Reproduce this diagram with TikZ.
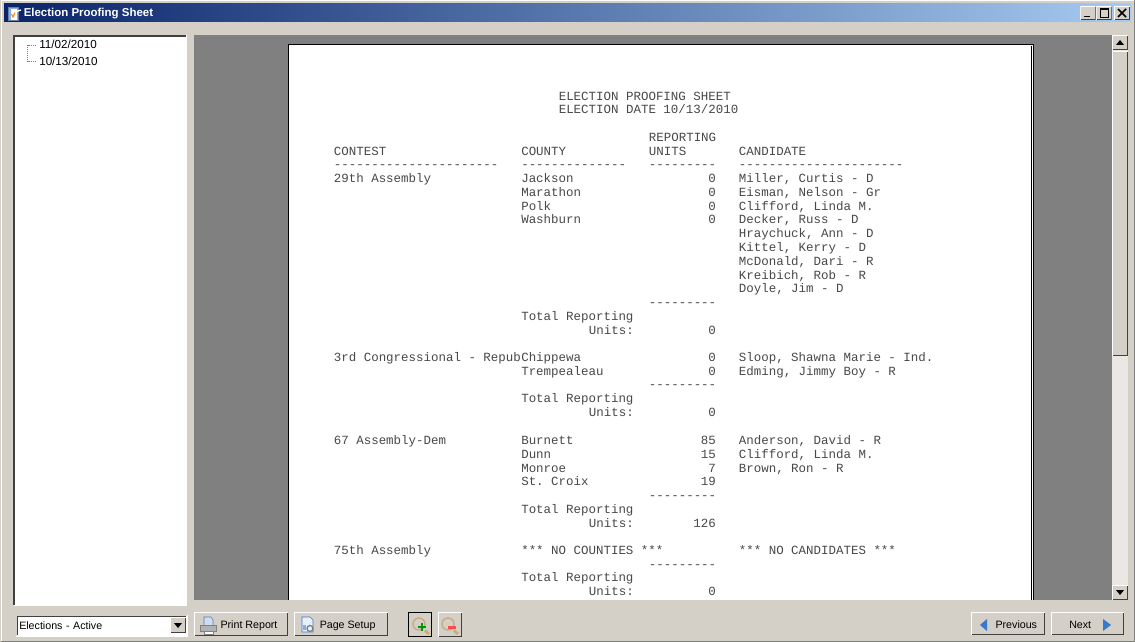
\documentclass[tikz,border=0pt]{standalone}
\usepackage{fontspec}
\setmainfont{Liberation Sans}
\setmonofont{Liberation Mono}
\definecolor{face}{HTML}{D4D0C8}
\definecolor{midgray}{HTML}{808080}
\definecolor{darkline}{HTML}{404040}
\definecolor{titleleft}{HTML}{0A246A}
\definecolor{titleright}{HTML}{A6CAF0}
\definecolor{track}{HTML}{EAE8E4}
\definecolor{ink}{HTML}{484848}
\definecolor{iconblue}{HTML}{3A78D0}
\definecolor{lens}{HTML}{CDA878}
\tikzset{
  report/.style={font=\ttfamily\fontsize{9.35pt}{11pt}\selectfont, text=ink, inner sep=0pt, anchor=base west},
  number/.style={report, anchor=base east},
  uitext/.style={font=\fontsize{8.75pt}{10pt}\selectfont, text=black, inner sep=0pt, anchor=base west},
  btntext/.style={font=\fontsize{8pt}{10pt}\selectfont, text=black, inner sep=0pt, anchor=base west},
  winbutton/.style={fill=face, inner sep=0pt, path picture={
      \draw[darkline, line width=0.75pt] ([xshift=.375pt,yshift=.375pt]path picture bounding box.south west)
        -| ([xshift=-.375pt]path picture bounding box.north east);
      \draw[white, line width=0.75pt] ([xshift=.375pt]path picture bounding box.south west)
        |- ([yshift=-.375pt]path picture bounding box.north east);
    }},
  scrollarrow/.style={fill=black, draw=none}
}
\begin{document}
\begin{tikzpicture}[x=0.75pt, y=-0.75pt]
    \useasboundingbox (0,0) rectangle (1135,642);

    % Window
    \fill[face] (0,0) rectangle (1135,642);
    \draw[white, line width=0.75pt] (1,641) -- (1,1) -- (1134,1);
    \draw[midgray, line width=0.75pt] (0.5,641) -- (1134.5,641) -- (1134.5,0);
    \shade[left color=titleleft, right color=titleright] (4,4) rectangle (1131,22);
    \node[font=\bfseries\fontsize{8.6pt}{10pt}\selectfont, text=white, inner sep=0pt, anchor=base west] (title) at (23.5,17) {Election Proofing Sheet};

    % Title icon
    \fill[iconblue!60!white, draw=titleleft!60!white] (8,7) rectangle (18,20);
    \fill[white] (11,9) rectangle (17,20);
    \draw[orange, thick] (11.5,14) -- (13,17) -- (15,12.5);
    \draw[white, line width=1pt] (15,12) -- (21,10);

    % Title buttons
    \node[winbutton, minimum width=11.5pt, minimum height=10.5pt] (minbtn) at (1088,13) {};
    \node[winbutton, minimum width=11.5pt, minimum height=10.5pt] (maxbtn) at (1104,13) {};
    \node[winbutton, minimum width=12pt, minimum height=10.5pt] (closebtn) at (1122,13) {};
    \fill[black] (1084,15.7) rectangle (1090,17.5);
    \draw[black, line width=0.75pt] (1100,9) rectangle (1108,17.5);
    \draw[black, line width=1.1pt] (1100,8.8) -- (1108,8.8);
    \draw[black, line width=1.1pt] (1118,9) -- (1126,17) (1126,9) -- (1118,17);

    % Tree panel
    \fill[white] (14,36) rectangle (186,605);
    \draw[darkline, line width=1pt] (14,605) -- (14,36) -- (186,36);
    \draw[white, line width=0.75pt] (13.5,605) -- (186.5,605) -- (186.5,35);
    \node[uitext] (date1) at (39,49) {11/02/2010};
    \node[uitext] (date2) at (39,65) {10/13/2010};
    \coordinate (treetop) at (27.5,45.5);
    \coordinate (treebot) at (27.5,61.5);
    \draw[midgray, line width=0.75pt, dash pattern=on 0.75pt off 0.75pt] ([xshift=-2.25pt]date1.west |- treetop) -- (treetop) -- (treebot) -- ([xshift=-2.25pt]date2.west |- treebot);

    % Preview area
    \fill[midgray] (194,35) rectangle (1112,600);
    \fill[white] (288,44) rectangle (1033.5,600);
    \draw[black, line width=0.75pt] (288.5,600) -- (288.5,45) -- (1033.3,45) -- (1033.3,600);
    \draw[black, line width=0.75pt] (1031,46) -- (1031,600);

    % Report heading
    \node[report] (head1) at (558.5,100) {ELECTION PROOFING SHEET};
    \node[report] (head2) at (558.5,113.8) {ELECTION DATE 10/13/2010};
    \node[report] (rep1) at (648.6,141) {REPORTING};
    \node[report] (hcontest) at (333.6,155.4) {CONTEST};
    \node[report] (hcounty) at (521,155.4) {COUNTY};
    \node[report] (rep2) at (648.6,155.4) {UNITS};
    \node[report] (hcand) at (738.6,155.4) {CANDIDATE};
    \node[report] (dash1) at (333.6,168.5) {----------------------};
    \node[report] (dash2) at (521,168.5) {--------------};
    \node[report] (dash3) at (648.6,168.5) {---------};
    \node[report] (dash4) at (738.6,168.5) {----------------------};

    % Contests
    \foreach \n/\y/\txt in {a/182.3/29th Assembly, b/361.3/3rd Congressional - Repub, c/444.3/67 Assembly-Dem, d/554.5/75th Assembly}
        \node[report] (contest\n) at (333.6,\y) {\txt};

    % Counties and units
    \foreach \n/\y/\txt/\val in {a/182.3/Jackson/0, b/196.1/Marathon/0, c/210.3/Polk/0, d/223.8/Washburn/0,
        e/361.3/Chippewa/0, f/375.2/Trempealeau/0,
        g/444.3/Burnett/85, h/458.1/Dunn/15, i/472.1/Monroe/7, j/485.6/St. Croix/19}{
        \node[report] (county\n) at (521,\y) {\txt};
        \node[number] (units\n) at (716,\y) {\val};
    }

    % Candidates
    \foreach \n/\y/\txt in {a/182.3/{Miller, Curtis - D}, b/196.1/{Eisman, Nelson - Gr}, c/210.3/{Clifford, Linda M.},
        d/223.8/{Decker, Russ - D}, e/237.6/{Hraychuck, Ann - D}, f/251.4/{Kittel, Kerry - D},
        g/265.2/{McDonald, Dari - R}, h/279.2/{Kreibich, Rob - R}, i/292.8/{Doyle, Jim - D},
        j/361.3/{Sloop, Shawna Marie - Ind.}, k/375.2/{Edming, Jimmy Boy - R},
        l/444.3/{Anderson, David - R}, m/458.1/{Clifford, Linda M.}, n/472.1/{Brown, Ron - R}}
        \node[report] (cand\n) at (738.6,\y) {\txt};

    \node[report] (nocounties) at (521,554.5) {*** NO COUNTIES ***};
    \node[report] (nocands) at (738.6,554.5) {*** NO CANDIDATES ***};

    % Totals
    \foreach \n/\y/\val in {a/306.3/0, b/388.5/0, c/499.2/126, d/568.1/0}{
        \node[report] (sum\n) at (648.6,\y) {---------};
        \node[report] (total\n) at (521,\y+13.8) {Total Reporting};
        \node[report] (label\n) at (588.6,\y+27.8) {Units:};
        \node[number] (totalval\n) at (716,\y+27.8) {\val};
    }

    % Scroll bar
    \fill[track] (1112,36) rectangle (1128,600);
    \node[winbutton, minimum width=12pt, minimum height=11.25pt] (scrollup) at (1120,43) {};
    \node[winbutton, minimum width=12pt, minimum height=11.25pt] (scrolldown) at (1120,592) {};
    \node[winbutton, anchor=north, minimum width=12pt, minimum height=228.75pt] (thumb) at (1120,51) {};
    \fill[scrollarrow] (1120,40) -- (1124,45) -- (1116,45) -- cycle;
    \fill[scrollarrow] (1120,595) -- (1124,590) -- (1116,590) -- cycle;

    % Bottom bar
    \node[btntext, fill=white, anchor=west, text width=124pt, align=left, inner xsep=1.5pt, minimum height=15pt] (combo) at (17,625.5) {Elections - Active};
    \draw[darkline, line width=0.75pt] (17,635) -- (17,616) -- (186,616);
    \draw[white, line width=0.75pt] (16,636) -- (187,636) -- (187,615);
    \node[winbutton, minimum width=12pt, minimum height=12pt] (combobtn) at (178,625) {};
    \fill[scrollarrow] (178,628) -- (174,623) -- (182,623) -- cycle;

    \node[winbutton, minimum width=70.5pt, minimum height=18pt] (print) at (241,624) {};
    \node[btntext] (printtext) at (220.3,628) {Print Report};
    \node[winbutton, minimum width=70.5pt, minimum height=18pt] (setup) at (341,624) {};
    \node[btntext] (setuptext) at (319.5,628) {Page Setup};

    % Print icon
    \fill[iconblue!25!white, draw=iconblue!60!gray] (204,617) -- (211,617) -- (213,620) -- (213,626) -- (204,626) -- cycle;
    \fill[gray!60, draw=gray] (200.5,625.5) rectangle (216,631.5);
    \fill[white, draw=gray] (204,631) rectangle (213,634);

    % Page icon
    \fill[iconblue!12!white, draw=iconblue] (302,617) -- (310,617) -- (313,620) -- (313,632) -- (302,632) -- cycle;
    \fill[iconblue!60] (303,625) rectangle (306,630);
    \draw[gray, line width=1pt] (310,628.5) circle (3);

    % Zoom buttons
    \node[winbutton, minimum width=18pt, minimum height=18.75pt] (zoomin) at (420,624.5) {};
    \draw[black, line width=0.75pt] (408.5,612.5) rectangle (431.5,636.5);
    \node[winbutton, minimum width=18pt, minimum height=18.75pt] (zoomout) at (450,624.5) {};
    \draw[lens, line width=1pt] (419,624) circle (6) (448,624) circle (6);
    \draw[lens, line width=2pt] (425,630.5) -- (429,634) (454,630.5) -- (458,634);
    \draw[green!60!black, line width=2pt] (418,627) -- (426,627) (422,623) -- (422,631);
    \fill[red!70!white] (447.5,625.5) rectangle (456,628.5);

    % Navigation
    \node[winbutton, minimum width=55.5pt, minimum height=17.5pt] (prev) at (1008,623.5) {};
    \node[btntext] (prevtext) at (995.3,628) {Previous};
    \fill[iconblue] (980,625) -- (987,619) -- (987,631) -- cycle;
    \node[winbutton, minimum width=55pt, minimum height=17.5pt] (next) at (1087.5,623.5) {};
    \node[btntext] (nexttext) at (1069,628) {Next};
    \fill[iconblue] (1111,625) -- (1103,619) -- (1103,631) -- cycle;
\end{tikzpicture}
\end{document}
